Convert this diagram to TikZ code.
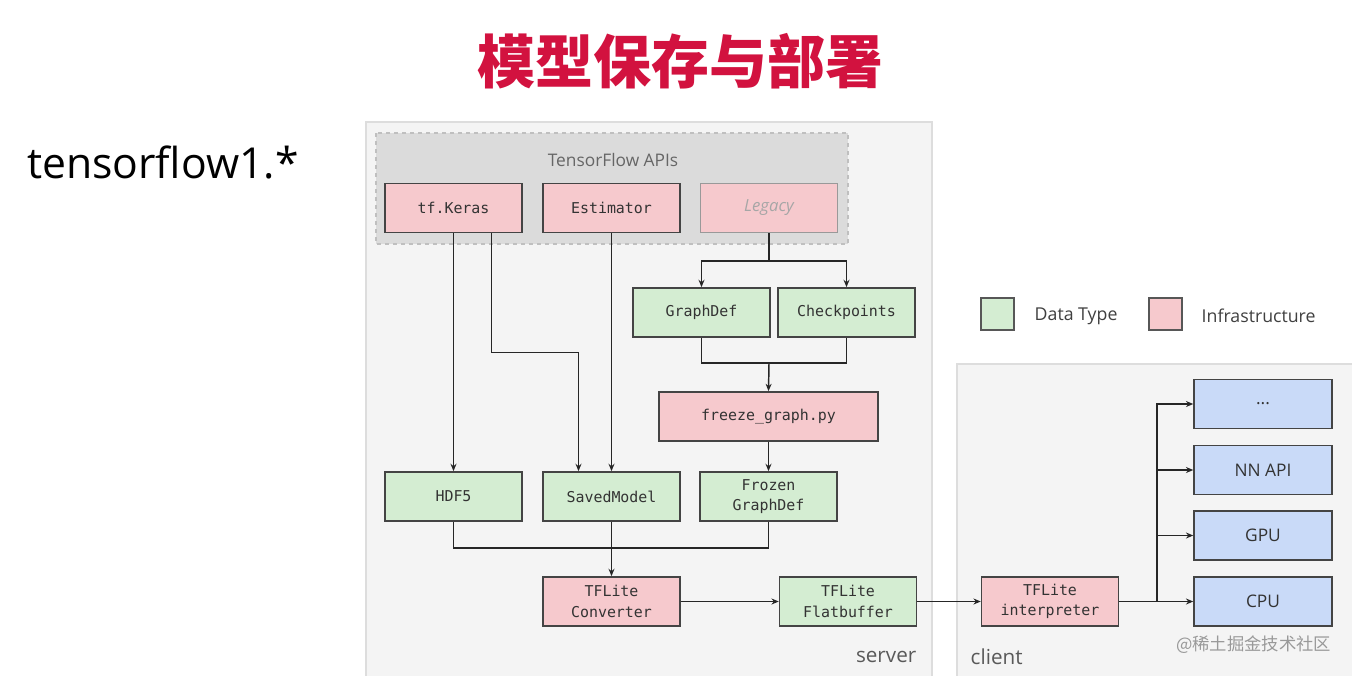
\documentclass[tikz,border=0pt]{standalone}
\usepackage{fontspec}
\usetikzlibrary{arrows.meta}
\setmainfont{Open Sans}
\setmonofont{DejaVu Sans Mono}
\newfontfamily\cjk{Noto Sans CJK SC}
\definecolor{titlered}{HTML}{D2123F}
\definecolor{infra}{HTML}{F6C9CD}
\definecolor{datatype}{HTML}{D4EDD2}
\definecolor{device}{HTML}{C9DAF8}
\definecolor{edge}{HTML}{444444}
\definecolor{panel}{HTML}{F4F4F4}
\definecolor{panelline}{HTML}{DDDDDD}
\definecolor{apis}{HTML}{DBDBDB}

\tikzset{
  box/.style={draw=edge,line width=1.1pt,minimum width=102.75pt,minimum height=37pt,
    inner sep=1pt,align=center,text=black!80,
    font=\ttfamily\fontsize{11.2}{15.5}\selectfont},
  infrabox/.style={box,fill=infra},
  databox/.style={box,fill=datatype},
  devbox/.style={box,fill=device,minimum width=103.5pt,font=\fontsize{13}{15}\selectfont},
  legendbox/.style={draw=edge!90,line width=1.2pt,minimum width=24.75pt,minimum height=24pt,inner sep=0pt},
  link/.style={draw=black!85,line width=1.1pt},
  arr/.style={link,->},
}

\begin{document}
\begin{tikzpicture}[x=0.75pt,y=-0.75pt,>={Stealth[length=5.5pt,width=4.5pt]}]
\useasboundingbox (0,0) rectangle (1352,675);
\fill[white] (0,0) rectangle (1352,675);

% panels
\draw[panelline,fill=panel,line width=1pt] (366,122) rectangle (932,690);
\draw[panelline,fill=panel,line width=1pt] (957,364) rectangle (1370,690);
\draw[black!25,fill=apis,dashed,line width=0.8pt] (376,133) rectangle (848,244);

% titles
\node[text=titlered,font=\cjk\bfseries\fontsize{43.5}{44}\selectfont] (title) at (680,61) {模型保存与部署};
\node[anchor=west,inner sep=0pt,font=\fontsize{32}{32}\selectfont] (version) at (27,162) {tensorflow1.*};
\node[text=black!60,font=\fontsize{13}{14}\selectfont] (apilabel) at (613,160) {TensorFlow APIs};

% APIs
\node[infrabox] (keras) at (453.5,208) {tf.Keras};
\node[infrabox] (estim) at (611.5,208) {Estimator};
\node[infrabox,draw=black!40,text=black!35,font=\itshape\fontsize{12.5}{14}\selectfont] (legacy) at (769,208) {Legacy};

% server side
\node[databox] (graphdef) at (701.5,312.5) {GraphDef};
\node[databox] (ckpt) at (846.5,312.5) {Checkpoints};
\node[infrabox,minimum width=164.25pt] (freeze) at (768.5,416.5) {freeze\_graph.py};
\node[databox] (hdf5) at (453.5,496.5) {HDF5};
\node[databox] (saved) at (611.5,496.5) {SavedModel};
\node[databox] (frozen) at (768.5,496.5) {Frozen\\GraphDef};
\node[infrabox] (conv) at (611.5,601.5) {TFLite\\Converter};
\node[databox] (flat) at (848,601.5) {TFLite\\Flatbuffer};

% client side
\node[infrabox] (interp) at (1050,601.5) {TFLite\\interpreter};
\node[devbox] (dots) at (1263,404) {...};
\node[devbox] (nnapi) at (1263,470) {NN API};
\node[devbox] (gpu) at (1263,535.5) {GPU};
\node[devbox] (cpu) at (1263,601.5) {CPU};

% legend
\node[legendbox,fill=datatype] (legdata) at (997.5,314) {};
\node[anchor=west,text=black!75,font=\fontsize{13.3}{15}\selectfont] (legdatatxt) at (1030,316) {Data Type};
\node[legendbox,fill=infra] (leginfra) at (1165.5,314) {};
\node[anchor=west,text=black!75,font=\fontsize{13.3}{15}\selectfont] (leginfratxt) at (1197,316) {Infrastructure};

\node[anchor=east,text=black!65,font=\fontsize{15.5}{16}\selectfont] (server) at (921,657) {server};
\node[anchor=west,text=black!65,font=\fontsize{15.5}{16}\selectfont] (client) at (966,657) {client};
\node[anchor=east,text=black!40,font=\cjk\fontsize{13}{14}\selectfont] (mark) at (1336,645) {@稀土掘金技术社区};

% connectors
\draw[arr] (keras.south) -- (hdf5.north);
\draw[arr] ([xshift=28.5pt]keras.south) -- ++(0,119) -| ([xshift=-24.75pt]saved.north);
\draw[arr] (estim.south) -- (saved.north);

\coordinate (lsplit) at (769,261);
\draw[link] (legacy.south) -- (lsplit);
\draw[arr] (lsplit) -| (graphdef.north);
\draw[arr] (lsplit) -| (ckpt.north);

\coordinate (gmerge) at (769,363);
\draw[link] (graphdef.south) |- (gmerge) -| (ckpt.south);
\draw[arr] (gmerge) -- (freeze.north);
\draw[arr] (freeze.south) -- (frozen.north);

\coordinate (smerge) at (611.5,548);
\draw[link] (hdf5.south) |- (smerge) -| (frozen.south);
\draw[link] (saved.south) -- (smerge);
\draw[arr] (smerge) -- (conv.north);

\draw[arr] (conv.east) -- (flat.west);
\draw[arr] (flat.east) -- (interp.west);

\coordinate (dsplit) at (1157,601.5);
\draw[link] (interp.east) -- (dsplit);
\foreach \dev in {dots,nnapi,gpu,cpu}
  \draw[arr] (dsplit) |- (\dev.west);
\end{tikzpicture}
\end{document}
